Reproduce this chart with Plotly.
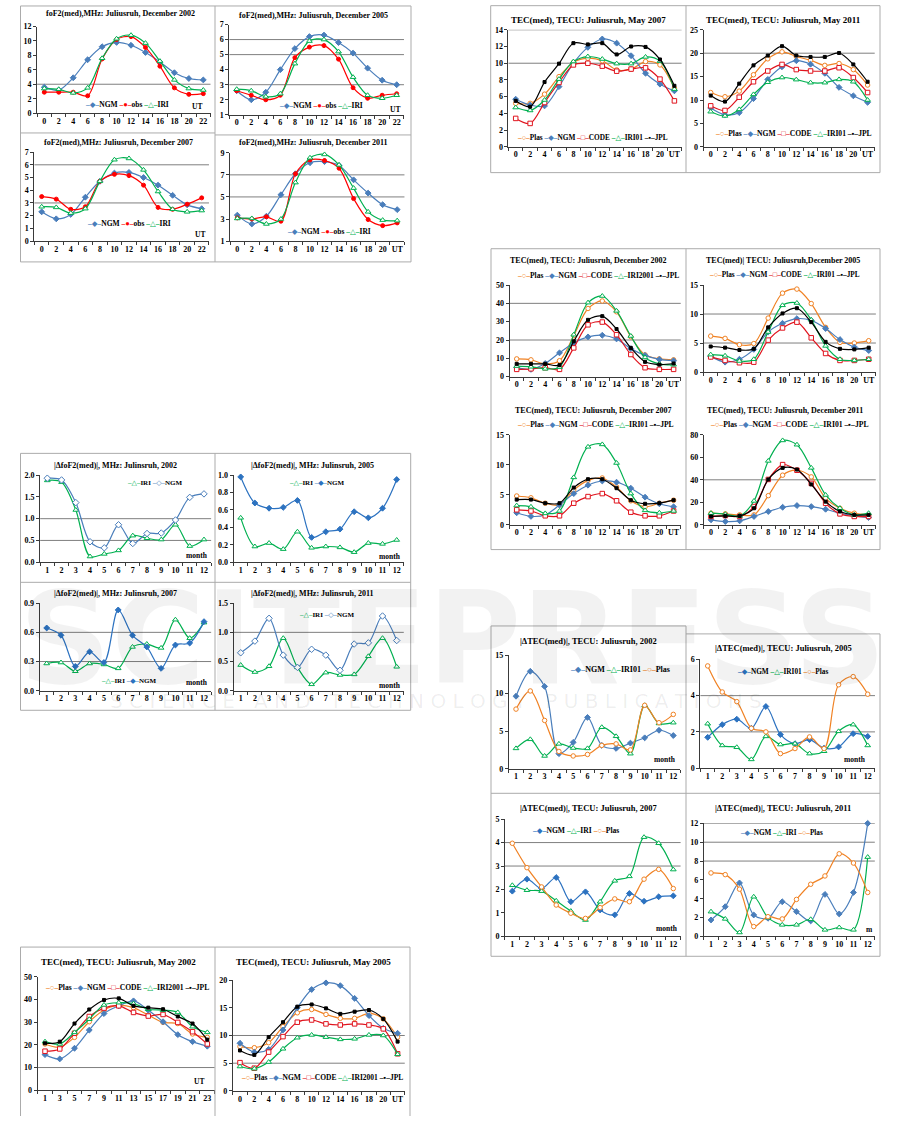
import plotly.graph_objects as go

W, H = 901, 1121
FONT = "Liberation Serif"
LFONT = "Liberation Serif, DejaVu Sans"

# ---------------- categories ----------------
UT_EVEN = [0, 2, 4, 6, 8, 10, 12, 14, 16, 18, 20, 22]
UT_ODD = [1, 3, 5, 7, 9, 11, 13, 15, 17, 19, 21, 23]
MONTHS = [1, 2, 3, 4, 5, 6, 7, 8, 9, 10, 11, 12]
UT_TEXT = ["0", "2", "4", "6", "8", "10", "12", "14", "16", "18", "20", "22"]
UT_TEXT_END = ["0", "2", "4", "6", "8", "10", "12", "14", "16", "18", "20", "UT"]
UT_ODD_TEXT = ["1", "3", "5", "7", "9", "11", "13", "15", "17", "19", "21", "23"]
MONTH_TEXT = ["1", "2", "3", "4", "5", "6", "7", "8", "9", "10", "11", "12"]

# ---------------- foF2(med), December ----------------
fof2_2002_ngm = [3.6, 3.2, 4.9, 7.4, 9.2, 9.8, 9.4, 8.4, 7.1, 5.6, 4.8, 4.6]
fof2_2002_obs = [2.9, 2.9, 2.9, 2.4, 7.5, 10.2, 10.6, 9.1, 6.5, 3.5, 2.6, 2.7]
fof2_2002_iri = [3.4, 3.3, 2.8, 3.5, 7.6, 10.3, 10.8, 9.7, 7.2, 4.6, 3.4, 3.2]

fof2_2005_ngm = [2.6, 2.0, 2.5, 4.0, 5.4, 6.2, 6.3, 5.8, 5.1, 4.1, 3.3, 3.0]
fof2_2005_obs = [2.6, 2.3, 2.0, 2.3, 4.8, 5.5, 5.6, 4.7, 2.8, 2.1, 2.3, 2.4]
fof2_2005_iri = [2.7, 2.6, 2.2, 2.4, 4.4, 5.9, 6.0, 5.2, 3.5, 2.3, 2.1, 2.3]

fof2_2007_ngm = [2.3, 1.75, 2.1, 3.45, 4.7, 5.35, 5.4, 5.0, 4.4, 3.6, 2.85, 2.55]
fof2_2007_obs = [3.5, 3.3, 2.5, 2.7, 4.7, 5.25, 5.15, 4.4, 2.65, 2.5, 2.9, 3.4]
fof2_2007_iri = [2.7, 2.65, 2.2, 2.55, 4.7, 6.4, 6.5, 5.6, 3.9, 2.5, 2.3, 2.4]

fof2_2011_ngm = [3.35, 2.55, 3.25, 5.2, 7.1, 8.1, 8.2, 7.85, 6.55, 5.35, 4.3, 3.85]
fof2_2011_obs = [3.1, 3.0, 3.2, 2.8, 7.1, 8.35, 8.3, 7.6, 4.85, 2.95, 2.4, 2.65]
fof2_2011_iri = [3.05, 3.05, 2.55, 3.0, 6.3, 8.55, 8.85, 7.9, 5.8, 3.65, 2.9, 2.85]

# ---------------- |dfoF2(med)| by month ----------------
dfof2_2002_iri = [1.88, 1.84, 1.2, 0.13, 0.19, 0.27, 0.61, 0.55, 0.52, 0.86, 0.37, 0.52]
dfof2_2002_ngm = [1.93, 1.89, 1.37, 0.47, 0.33, 0.86, 0.43, 0.66, 0.67, 0.97, 1.49, 1.57]
dfof2_2005_iri = [0.51, 0.18, 0.22, 0.15, 0.35, 0.165, 0.18, 0.17, 0.115, 0.22, 0.21, 0.255]
dfof2_2005_ngm = [0.98, 0.68, 0.62, 0.63, 0.71, 0.285, 0.35, 0.38, 0.58, 0.51, 0.62, 0.95]
dfof2_2007_iri = [0.28, 0.29, 0.2, 0.28, 0.27, 0.23, 0.45, 0.48, 0.44, 0.73, 0.54, 0.70]
dfof2_2007_ngm = [0.645, 0.57, 0.25, 0.40, 0.29, 0.83, 0.57, 0.45, 0.23, 0.47, 0.49, 0.71]
dfof2_2011_iri = [0.44, 0.32, 0.42, 0.9, 0.4, 0.11, 0.31, 0.27, 0.28, 0.59, 0.9, 0.41]
dfof2_2011_ngm = [0.65, 0.85, 1.24, 0.61, 0.4, 0.71, 0.61, 0.35, 0.80, 0.82, 1.28, 0.86]

# ---------------- TEC(med), May ----------------
tec_may2002_plas = [20.4, 19.0, 23.3, 30.2, 35.4, 37.5, 36.4, 33.1, 29.9, 29.4, 24.8, 23.3]
tec_may2002_ngm = [15.7, 13.8, 18.5, 26.5, 33.8, 37.2, 39.4, 35.3, 30.2, 24.5, 21.4, 19.4]
tec_may2002_code = [17.2, 18.2, 25.1, 32.5, 36.2, 37.2, 34.3, 32.7, 33.4, 29.9, 25.8, 20.4]
tec_may2002_iri = [21.4, 20.4, 25.5, 31.3, 37.6, 38.6, 38.2, 35.7, 35.3, 34.3, 28.0, 25.5]
tec_may2002_jpl = [20.7, 21.4, 29.4, 35.6, 39.8, 40.5, 37.2, 36.4, 35.7, 32.5, 29.4, 22.3]

tec_may2005_plas = [8.0, 7.8, 8.7, 11.6, 14.1, 14.7, 13.8, 13.1, 13.1, 14.0, 13.0, 9.7]
tec_may2005_ngm = [8.6, 7.0, 7.5, 11.0, 15.0, 18.3, 19.5, 19.0, 16.7, 13.6, 11.3, 10.4]
tec_may2005_code = [5.1, 4.1, 7.0, 9.8, 12.4, 12.8, 12.1, 11.9, 12.1, 11.9, 11.2, 6.7]
tec_may2005_iri = [4.4, 4.0, 5.2, 7.6, 9.6, 10.1, 9.7, 9.3, 9.4, 10.1, 10.0, 6.6]
tec_may2005_jpl = [7.3, 6.5, 9.7, 12.4, 15.2, 15.6, 14.9, 13.9, 14.3, 14.6, 13.0, 8.9]

tec_may2007_plas = [5.2, 5.2, 6.3, 8.4, 10.1, 10.6, 10.3, 9.2, 9.3, 10.2, 9.8, 7.0]
tec_may2007_ngm = [5.7, 5.0, 4.9, 7.2, 10.0, 11.9, 12.9, 12.4, 10.9, 8.8, 7.5, 6.7]
tec_may2007_code = [3.4, 2.8, 5.3, 7.7, 9.8, 10.0, 9.65, 9.05, 9.3, 9.45, 8.1, 5.5]
tec_may2007_iri = [4.7, 4.35, 5.6, 8.1, 10.2, 10.8, 10.5, 9.95, 9.95, 10.75, 10.25, 6.9]
tec_may2007_jpl = [5.5, 4.8, 7.75, 9.95, 12.4, 12.25, 12.4, 11.05, 12.0, 11.95, 10.45, 7.3]

tec_may2011_plas = [11.6, 10.7, 11.9, 15.4, 18.8, 20.3, 19.3, 18.5, 17.4, 17.8, 16.5, 13.2]
tec_may2011_ngm = [8.3, 6.85, 7.3, 10.3, 14.4, 17.1, 18.4, 17.65, 15.7, 12.7, 10.9, 9.5]
tec_may2011_code = [8.76, 7.77, 10.6, 13.9, 16.2, 17.6, 16.5, 16.2, 16.2, 16.9, 14.8, 11.6]
tec_may2011_iri = [7.5, 6.6, 8.0, 11.2, 13.8, 14.8, 14.35, 13.7, 13.7, 14.4, 13.9, 10.0]
tec_may2011_jpl = [10.95, 9.67, 13.5, 17.4, 19.5, 21.5, 19.5, 19.2, 19.2, 20.05, 17.6, 13.9]

# ---------------- TEC(med), December ----------------
tec_dec2002_plas = [9.7, 9.2, 7.0, 8.7, 22.4, 37.2, 41.3, 35.4, 21.8, 11.9, 9.7, 9.2]
tec_dec2002_ngm = [4.9, 4.0, 7.2, 13.0, 18.4, 21.7, 22.6, 20.6, 15.3, 11.6, 9.4, 8.7]
tec_dec2002_code = [4.0, 4.3, 4.9, 4.0, 15.7, 28.3, 29.8, 22.9, 12.1, 4.9, 4.0, 4.0]
tec_dec2002_iri = [5.8, 5.4, 4.3, 5.2, 22.9, 40.4, 44.0, 35.9, 22.2, 10.5, 7.0, 6.5]
tec_dec2002_jpl = [7.0, 7.0, 7.0, 6.3, 19.3, 31.0, 33.0, 26.0, 15.7, 8.1, 6.6, 7.2]

tec_dec2005_plas = [6.2, 5.8, 4.7, 4.9, 9.3, 13.6, 14.3, 11.8, 7.7, 5.1, 5.0, 5.4]
tec_dec2005_ngm = [2.7, 1.7, 2.2, 3.9, 6.9, 8.4, 9.2, 8.9, 7.5, 5.6, 4.3, 3.7]
tec_dec2005_code = [2.6, 2.0, 1.6, 1.7, 5.5, 7.6, 8.6, 5.9, 3.2, 2.0, 2.0, 2.2]
tec_dec2005_iri = [3.0, 2.8, 1.9, 2.2, 6.9, 11.5, 11.9, 9.0, 4.5, 2.2, 2.0, 2.2]
tec_dec2005_jpl = [4.4, 4.2, 3.8, 4.0, 7.7, 10.1, 11.0, 8.6, 5.2, 4.0, 3.9, 4.2]

tec_dec2007_plas = [4.8, 4.5, 3.6, 3.3, 5.8, 7.4, 7.8, 6.3, 4.0, 3.0, 3.6, 4.1]
tec_dec2007_ngm = [2.0, 1.4, 1.65, 3.3, 5.2, 6.6, 7.3, 7.1, 6.1, 4.6, 3.5, 3.0]
tec_dec2007_code = [2.5, 2.3, 1.5, 1.5, 3.6, 4.7, 5.2, 4.0, 2.1, 1.5, 1.5, 2.3]
tec_dec2007_iri = [3.2, 3.0, 1.9, 2.3, 7.9, 13.0, 13.4, 10.3, 5.2, 2.4, 2.0, 2.3]
tec_dec2007_jpl = [4.2, 4.2, 3.6, 3.6, 6.2, 7.6, 7.6, 6.1, 4.1, 3.5, 3.6, 4.1]

tec_dec2011_plas = [10.3, 9.7, 8.8, 8.8, 25.9, 44.1, 48.5, 42.6, 23.5, 14.7, 10.3, 8.8]
tec_dec2011_ngm = [4.4, 2.9, 3.5, 7.4, 11.8, 15.6, 17.1, 16.2, 13.8, 10.3, 7.9, 6.5]
tec_dec2011_code = [7.4, 8.2, 7.4, 16.2, 40.3, 53.5, 48.5, 36.8, 19.1, 9.7, 7.4, 7.4]
tec_dec2011_iri = [10.3, 9.4, 7.9, 21.2, 56.8, 75.0, 71.2, 50.6, 26.5, 14.7, 8.8, 10.3]
tec_dec2011_jpl = [7.4, 7.9, 7.9, 14.7, 40.3, 50.6, 49.1, 35.9, 20.6, 11.8, 8.8, 8.8]

# ---------------- |dTEC(med)| by month ----------------
dtec_2002_ngm = [9.6, 12.9, 10.9, 2.0, 3.5, 6.8, 3.1, 2.7, 3.4, 4.1, 5.1, 4.4]
dtec_2002_iri = [2.7, 3.9, 1.7, 3.3, 2.75, 2.7, 5.5, 4.3, 2.0, 8.4, 6.0, 6.1]
dtec_2002_plas = [7.9, 10.3, 6.4, 2.3, 1.7, 1.9, 3.1, 3.3, 2.5, 8.4, 6.1, 7.2]
dtec_2005_ngm = [1.7, 2.4, 2.7, 2.2, 3.4, 1.85, 1.35, 1.57, 1.1, 1.17, 1.9, 1.75]
dtec_2005_iri = [2.45, 1.25, 1.15, 0.48, 1.75, 1.3, 1.35, 0.8, 0.93, 2.03, 2.4, 1.25]
dtec_2005_plas = [5.64, 4.2, 3.67, 2.2, 2.0, 0.8, 1.08, 1.72, 1.08, 4.6, 5.05, 4.08]
dtec_2007_ngm = [1.93, 2.44, 2.04, 2.51, 1.48, 1.9, 1.13, 0.92, 1.83, 1.5, 1.69, 1.73]
dtec_2007_iri = [2.18, 1.97, 1.93, 1.52, 1.08, 0.7, 1.48, 2.37, 2.56, 4.23, 3.97, 2.85]
dtec_2007_plas = [3.97, 2.93, 2.11, 1.34, 0.99, 0.77, 1.23, 1.6, 1.48, 2.44, 2.86, 2.04]
dtec_2011_ngm = [1.75, 3.16, 5.68, 2.28, 1.93, 3.68, 2.63, 1.65, 4.46, 2.39, 4.67, 12.0]
dtec_2011_iri = [2.63, 1.86, 0.42, 4.21, 2.0, 1.23, 1.23, 1.82, 0.7, 0.95, 0.7, 8.42]
dtec_2011_plas = [6.74, 6.56, 5.02, 1.05, 2.1, 1.86, 3.93, 5.54, 6.42, 8.77, 7.79, 4.67]

# ---------------- styles ----------------
BLUE = "#4A7EBB"
BLUE2 = "#2C72C0"
RED = "#FF0000"
RED2 = "#E0141E"
GREEN = "#00B050"
ORANGE = "#F08224"
STY = {
    "ngm": dict(c=BLUE, sym="diamond", size=4.5, fill=BLUE, g="◆"),
    "ngm2": dict(c=BLUE2, sym="diamond", size=4.5, fill=BLUE2, g="◆"),
    "ngmo": dict(c=BLUE, sym="diamond", size=5, fill="white", g="◇"),
    "obs": dict(c=RED, sym="circle", size=4, fill=RED, g="●"),
    "iri": dict(c=GREEN, sym="triangle-up", size=5, fill="white", g="△"),
    "plas": dict(c=ORANGE, sym="circle", size=4.5, fill="white", g="○"),
    "code": dict(c=RED2, sym="square", size=4.5, fill="white", g="□"),
    "jpl": dict(c="black", sym="square", size=3, fill="black", g="▪"),
}

panels = []


def P(**kw):
    panels.append(kw)


def TECS(p, n, c, i, j, iname):
    return [("Plas", p, "plas"), ("NGM", n, "ngm"), ("CODE", c, "code"), (iname, i, "iri"), ("JPL", j, "jpl")]


# group A
P(title="foF2(med),MHz: Juliusruh, December 2002", tpos=(120, 10), ts=8, x=UT_EVEN, tt=UT_TEXT,
  series=[("NGM", fof2_2002_ngm, "ngm"), ("obs", fof2_2002_obs, "obs"), ("IRI", fof2_2002_iri, "iri")],
  xc=(44.3, 203.3), yp=(22.7, 110), yr=(0, 12), dt=2, fmt="", grid=[4], leg=(83, 101, 7.5),
  notes=[("UT", 197, 103)])
P(title="foF2(med),MHz: Juliusruh, December 2005", tpos=(313, 12), ts=8, x=UT_EVEN, tt=UT_TEXT,
  series=[("NGM", fof2_2005_ngm, "ngm"), ("obs", fof2_2005_obs, "obs"), ("IRI", fof2_2005_iri, "iri")],
  xc=(236.7, 396.7), yp=(20.7, 111.7), yr=(1, 7), dt=1, fmt="", grid=[3, 5, 6], leg=(277, 102.7, 7.5),
  notes=[("UT", 395, 106)])
P(title="foF2(med),MHz: Juliusruh, December 2007", tpos=(118, 140), ts=8, x=UT_EVEN, tt=UT_TEXT,
  series=[("NGM", fof2_2007_ngm, "ngm"), ("obs", fof2_2007_obs, "obs"), ("IRI", fof2_2007_iri, "iri")],
  xc=(41.7, 201.7), yp=(149.3, 239), yr=(0, 7), dt=1, fmt="", grid=[3, 6], leg=(85, 221, 7.5),
  notes=[("UT", 200, 232)])
P(title="foF2(med),MHz: Juliusruh, December 2011", tpos=(313, 140), ts=8, x=UT_EVEN, tt=UT_TEXT_END,
  series=[("NGM", fof2_2011_ngm, "ngm"), ("obs", fof2_2011_obs, "obs"), ("IRI", fof2_2011_iri, "iri")],
  xc=(237.3, 397.2), yp=(150, 239), yr=(1, 9), dt=2, fmt="", grid=[5, 7], leg=(285, 229, 7.5),
  notes=[])
# group B
P(title="|ΔfoF2(med)|, MHz: Julinsruh, 2002", tpos=(115, 465), ts=8, x=MONTHS, tt=MONTH_TEXT,
  series=[("IRI", dfof2_2002_iri, "iri"), ("NGM", dfof2_2002_ngm, "ngmo")],
  xc=(47.3, 204), yp=(475, 562.7), yr=(0, 2.0), dt=0.5, fmt=".1f", grid=[0.5, 1.0], leg=(125, 483.3, 7),
  notes=[("month", 197, 556)])
P(title="|ΔfoF2(med)|, MHz: Julinsruh, 2005", tpos=(312, 465), ts=8, x=MONTHS, tt=MONTH_TEXT,
  series=[("IRI", dfof2_2005_iri, "iri"), ("NGM", dfof2_2005_ngm, "ngm2")],
  xc=(240.7, 396.7), yp=(475, 562.7), yr=(0, 1.0), dt=0.2, fmt=".1f", grid=[], leg=(287, 482.7, 7),
  notes=[("month", 390, 556.7)])
P(title="|ΔfoF2(med)|, MHz: Julinsruh, 2007", tpos=(115, 594), ts=8, x=MONTHS, tt=MONTH_TEXT,
  series=[("IRI", dfof2_2007_iri, "iri"), ("NGM", dfof2_2007_ngm, "ngm2")],
  xc=(46.7, 204), yp=(604, 692.3), yr=(0, 0.9), dt=0.3, fmt=".1f", grid=[0.3, 0.6], leg=(99, 682.3, 7),
  notes=[("month", 197, 684)])
P(title="|ΔfoF2(med)|, MHz: Julinsruh, 2011", tpos=(312, 594), ts=8, x=MONTHS, tt=MONTH_TEXT,
  series=[("IRI", dfof2_2011_iri, "iri"), ("NGM", dfof2_2011_ngm, "ngmo")],
  xc=(240.7, 396.7), yp=(604, 692.3), yr=(0, 1.5), dt=0.5, fmt=".1f", grid=[1.0], leg=(297, 616, 7),
  notes=[("month", 390, 687)])
# group C
P(title="TEC(med), TECU: Juliusruh, May 2002", tpos=(118, 966), ts=9, x=UT_ODD, tt=UT_ODD_TEXT,
  series=TECS(tec_may2002_plas, tec_may2002_ngm, tec_may2002_code, tec_may2002_iri, tec_may2002_jpl, "IRI2001"),
  xc=(45, 207.3), yp=(980.7, 1095), yr=(0, 50), dt=10, fmt="", grid=[10], leg=(43, 991, 7.6),
  notes=[("UT", 199, 1086)])
P(title="TEC(med), TECU: Juliusruh, May 2005", tpos=(313, 966), ts=9, x=UT_EVEN, tt=UT_TEXT_END,
  series=TECS(tec_may2005_plas, tec_may2005_ngm, tec_may2005_code, tec_may2005_iri, tec_may2005_jpl, "IRI2001"),
  xc=(240, 397.6), yp=(984, 1095.7), yr=(0, 20), dt=5, fmt="", grid=[5, 10], leg=(239, 1081.7, 7.5),
  notes=[])
# group D
P(title="TEC(med), TECU: Juliusruh, May 2007", tpos=(588, 16), ts=9, x=UT_EVEN, tt=UT_TEXT_END,
  series=TECS(tec_may2007_plas, tec_may2007_ngm, tec_may2007_code, tec_may2007_iri, tec_may2007_jpl, "IRI01"),
  xc=(515.7, 674.4), yp=(26, 144), yr=(0, 14), dt=2, fmt="", grid=[10, 14], leg=(515, 135, 7.3),
  notes=[])
P(title="TEC(med), TECU: Juliusruh, May 2011", tpos=(783, 16), ts=9, x=UT_EVEN, tt=UT_TEXT_END,
  series=TECS(tec_may2011_plas, tec_may2011_ngm, tec_may2011_code, tec_may2011_iri, tec_may2011_jpl, "IRI01"),
  xc=(710.7, 867.6), yp=(26, 144), yr=(0, 25), dt=5, fmt="", grid=[20], leg=(713, 130.7, 7.6),
  notes=[])
# group E
P(title="TEC(med), TECU: Juliusruh, December 2002", tpos=(588, 259), ts=8, x=UT_EVEN, tt=UT_TEXT_END,
  series=TECS(tec_dec2002_plas, tec_dec2002_ngm, tec_dec2002_code, tec_dec2002_iri, tec_dec2002_jpl, "IRI2001"),
  xc=(516.7, 673.6), yp=(283.3, 375.7), yr=(0, 50), dt=10, fmt="", grid=[20, 40], leg=(515, 273.3, 7.5),
  notes=[])
P(title="TEC(med)| TECU: Juliusruh,December 2005", tpos=(783, 259), ts=8, x=UT_EVEN, tt=UT_TEXT_END,
  series=TECS(tec_dec2005_plas, tec_dec2005_ngm, tec_dec2005_code, tec_dec2005_iri, tec_dec2005_jpl, "IRI01"),
  xc=(710.7, 868.7), yp=(283.3, 371), yr=(0, 15), dt=5, fmt="", grid=[5, 10], leg=(707, 272.3, 7.3),
  notes=[])
P(title="TEC(med), TECU: Juliusruh, December 2007", tpos=(593, 410), ts=8, x=UT_EVEN, tt=UT_TEXT_END,
  series=TECS(tec_dec2007_plas, tec_dec2007_ngm, tec_dec2007_code, tec_dec2007_iri, tec_dec2007_jpl, "IRI01"),
  xc=(516.7, 673.6), yp=(434.3, 525), yr=(0, 15), dt=5, fmt="", grid=[], leg=(515, 424.3, 7.6),
  notes=[])
P(title="TEC(med), TECU: Juliusruh, December 2011", tpos=(785, 410), ts=8, x=UT_EVEN, tt=UT_TEXT_END,
  series=TECS(tec_dec2011_plas, tec_dec2011_ngm, tec_dec2011_code, tec_dec2011_iri, tec_dec2011_jpl, "IRI01"),
  xc=(711, 868.6), yp=(434.3, 525), yr=(0, 80), dt=20, fmt="", grid=[40], leg=(708, 424.3, 7.7),
  notes=[])
# group F
P(title="|ΔTEC(med)|, TECU: Juliusruh, 2002", tpos=(588, 642), ts=8.5, x=MONTHS, tt=MONTH_TEXT,
  series=[("NGM", dtec_2002_ngm, "ngm"), ("IRI01", dtec_2002_iri, "iri"), ("Plas", dtec_2002_plas, "plas")],
  xc=(516, 673.3), yp=(656.7, 771), yr=(0, 15), dt=5, fmt="", grid=[], leg=(568, 670.7, 8),
  notes=[("month", 665, 761.7)])
P(title="|ΔTEC(med)|, TECU: Juliusruh, 2005", tpos=(783, 649), ts=8.5, x=MONTHS, tt=MONTH_TEXT,
  series=[("NGM", dtec_2005_ngm, "ngm2"), ("IRI01", dtec_2005_iri, "iri"), ("Plas", dtec_2005_plas, "plas")],
  xc=(707.7, 867.7), yp=(660.7, 770.3), yr=(0, 6), dt=2, fmt="", grid=[2, 4], leg=(735, 672.7, 7.3),
  notes=[("month", 855, 762)])
P(title="|ΔTEC(med)|, TECU: Juliusruh, 2007", tpos=(588, 811), ts=8.5, x=MONTHS, tt=MONTH_TEXT,
  series=[("NGM", dtec_2007_ngm, "ngm2"), ("IRI", dtec_2007_iri, "iri"), ("Plas", dtec_2007_plas, "plas")],
  xc=(512.3, 673.3), yp=(821.7, 940), yr=(0, 5), dt=1, fmt="", grid=[3, 4], leg=(530, 833.3, 7.6),
  notes=[("month", 666.7, 931.7)])
P(title="|ΔTEC(med)|, TECU: Juliusruh, 2011", tpos=(783, 811), ts=8.5, x=MONTHS, tt=MONTH_TEXT,
  series=[("NGM", dtec_2011_ngm, "ngm"), ("IRI", dtec_2011_iri, "iri"), ("Plas", dtec_2011_plas, "plas")],
  xc=(711, 867.7), yp=(826, 940), yr=(0, 12), dt=2, fmt="", grid=[8, 10, 12], leg=(738, 835.7, 7.2),
  notes=[("m", 869, 932.7)])

# ---------------- frames (px) ----------------
FRAMES = [
    # group A
    (20.5, 2, 411, 2), (20.5, 2, 20.5, 260), (411, 2, 411, 260), (215, 2, 215, 260),
    (20.5, 130, 215, 130), (215, 132, 411, 132), (20.5, 260, 411, 260),
    # group B
    (20.5, 453, 410.7, 453), (20.5, 453, 20.5, 712), (410.7, 453, 410.7, 712), (215, 453, 215, 712),
    (20.5, 583, 410.7, 583), (20.5, 712, 410.7, 712),
    # group C
    (20.5, 950.7, 410, 950.7), (20.5, 950.7, 20.5, 1121), (215, 950.7, 215, 1121), (410, 950.7, 410, 1121),
    # group D
    (490.7, 1.7, 880, 1.7), (490.7, 1.7, 490.7, 170), (686, 1.7, 686, 170), (880, 1.7, 880, 170),
    (490.7, 170, 880, 170),
    # group E
    (491, 246.7, 880, 246.7), (491, 246.7, 491, 550), (686, 246.7, 686, 550), (880, 246.7, 880, 550),
    (491, 550, 880, 550),
    # group F
    (491, 627, 686, 627), (686, 635, 880, 635), (491, 627, 491, 960), (686, 627, 686, 960),
    (880, 635, 880, 960), (491, 795.7, 880, 795.7), (491, 960, 880, 960),
]


def fx(px):
    return px / W


def fy(py):
    return 1 - py / H


fig = go.Figure()
layout = dict(width=W, height=H, margin=dict(l=0, r=0, t=0, b=0), autosize=False,
              paper_bgcolor="white", plot_bgcolor="rgba(0,0,0,0)", showlegend=False)
shapes = []
annotations = []
TICKFONT = dict(family=FONT, size=8, color="black", weight="bold")
AXC = "#3a3a3a"

for k, p in enumerate(panels, start=1):
    xn = "xaxis" if k == 1 else f"xaxis{k}"
    yn = "yaxis" if k == 1 else f"yaxis{k}"
    xr = "x" if k == 1 else f"x{k}"
    yr_ = "y" if k == 1 else f"y{k}"
    xs = p["x"]
    step = xs[1] - xs[0]
    ppu = (p["xc"][1] - p["xc"][0]) / (xs[-1] - xs[0])
    left = p["xc"][0] - step / 2 * ppu
    right = p["xc"][1] + step / 2 * ppu
    ymin, ymax = p["yr"]
    ytop, ybot = p["yp"]
    nt = int(round((ymax - ymin) / p["dt"]))
    yt = [round(ymin + i * p["dt"], 6) for i in range(nt + 1)]
    layout[xn] = dict(domain=[fx(left), fx(right)], anchor=yr_, range=[xs[0] - step / 2, xs[-1] + step / 2],
                      tickmode="array", tickvals=xs, ticktext=p["tt"], ticks="", showline=True,
                      linecolor=AXC, linewidth=1, showgrid=False, zeroline=False, tickfont=TICKFONT,
                      minor=dict(tick0=xs[0] - step / 2, dtick=step, ticks="outside", ticklen=3,
                                 tickcolor=AXC, showgrid=False),
                      fixedrange=True)
    layout[yn] = dict(domain=[fy(ybot), fy(ytop)], anchor=xr, range=[ymin, ymax], tickmode="array",
                      tickvals=yt, tickformat=p["fmt"], ticks="outside", ticklen=3, tickcolor=AXC,
                      showline=True, linecolor=AXC, linewidth=1, showgrid=False, zeroline=False,
                      tickfont=TICKFONT, fixedrange=True)
    for g in p["grid"]:
        shapes.append(dict(type="line", xref=f"{xr} domain", yref=yr_, x0=0, x1=1, y0=g, y1=g,
                           line=dict(color="#7f7f7f", width=1), layer="below"))
    for name, vals, sk in p["series"]:
        s = STY[sk]
        fig.add_trace(go.Scatter(x=xs, y=vals, xaxis=xr, yaxis=yr_, mode="lines+markers", name=name,
                                 line=dict(color=s["c"], width=1.2, shape="spline", smoothing=0.9),
                                 marker=dict(symbol=s["sym"], size=s["size"], color=s["fill"],
                                             line=dict(color=s["c"], width=1)),
                                 cliponaxis=False, showlegend=False))
    # title
    annotations.append(dict(text=f"<b>{p['title']}</b>", x=fx(p["tpos"][0]), y=fy(p["tpos"][1]),
                            xref="paper", yref="paper", showarrow=False, xanchor="center", yanchor="middle",
                            font=dict(family=FONT, size=p["ts"], color="black")))
    # legend (manual, one per panel)
    lx, ly, ls = p["leg"]
    parts = []
    for name, vals, sk in p["series"]:
        s = STY[sk]
        parts.append(f'<span style="color:{s["c"]}">–{s["g"]}–</span>{name}')
    annotations.append(dict(text="<b>" + " ".join(parts) + "</b>", x=fx(lx), y=fy(ly), xref="paper",
                            yref="paper", showarrow=False, xanchor="left", yanchor="middle",
                            font=dict(family=LFONT, size=ls, color="black")))
    for t, nx, ny in p["notes"]:
        annotations.append(dict(text=f"<b>{t}</b>", x=fx(nx), y=fy(ny), xref="paper", yref="paper",
                                showarrow=False, xanchor="center", yanchor="middle",
                                font=dict(family=FONT, size=7.5, color="black")))

for x0, y0, x1, y1 in FRAMES:
    shapes.append(dict(type="line", xref="paper", yref="paper", x0=fx(x0), y0=fy(y0), x1=fx(x1), y1=fy(y1),
                       line=dict(color="#ababab", width=1)))

# faint publisher watermark
annotations.append(dict(text="<b>SCITEPRESS</b>", x=fx(452), y=fy(640), xref="paper", yref="paper",
                        showarrow=False, xanchor="center", yanchor="middle",
                        font=dict(family="DejaVu Sans", size=128, color="rgba(0,0,0,0.05)")))
annotations.append(dict(text="S C I E N C E   A N D   T E C H N O L O G Y   P U B L I C A T I O N S",
                        x=fx(436), y=fy(703), xref="paper", yref="paper", showarrow=False,
                        xanchor="center", yanchor="middle",
                        font=dict(family="DejaVu Sans", size=20, color="rgba(0,0,0,0.07)")))

layout["shapes"] = shapes
layout["annotations"] = annotations
fig.update_layout(**layout)
fig.write_html("out.html", config={"displayModeBar": False},
               post_script="document.body.style.margin='0px';document.body.style.overflow='hidden';")
